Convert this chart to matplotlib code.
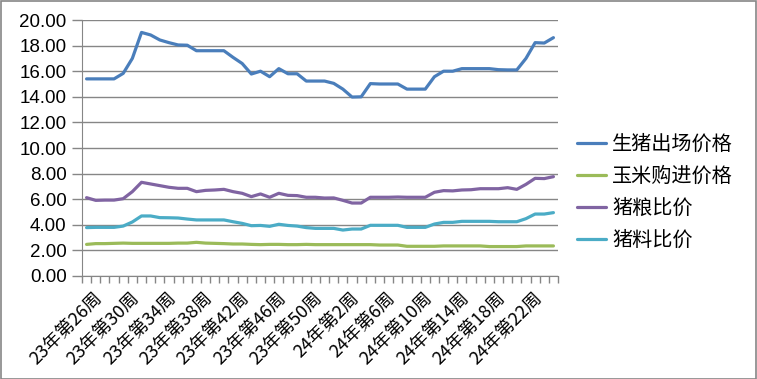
import matplotlib.pyplot as plt
import matplotlib.patches as mpatches
import matplotlib.transforms as mtransforms
import numpy as np

# categories: 2023 week 26 .. 2024 week 25
weeks = [f"23年第{w}周" for w in range(26, 53)] + [f"24年第{w}周" for w in range(1, 26)]

hog_price = [15.4, 15.4, 15.4, 15.4, 15.83, 17.0, 19.03, 18.83, 18.44, 18.23, 18.05, 18.03,
             17.6, 17.6, 17.6, 17.6, 17.08, 16.6, 15.78, 16.0, 15.57, 16.2, 15.8, 15.8,
             15.23, 15.23, 15.23, 15.05, 14.6, 13.98, 14.0, 15.03, 15.0, 15.0, 15.0, 14.6,
             14.6, 14.6, 15.57, 16.0, 16.0, 16.2, 16.2, 16.2, 16.2, 16.12, 16.1, 16.1,
             17.0, 18.23, 18.2, 18.62]
corn_price = [2.47, 2.53, 2.53, 2.55, 2.57, 2.55, 2.55, 2.55, 2.55, 2.55, 2.57, 2.57,
              2.63, 2.57, 2.55, 2.53, 2.5, 2.5, 2.47, 2.45, 2.47, 2.47, 2.45, 2.45,
              2.47, 2.45, 2.45, 2.45, 2.45, 2.45, 2.45, 2.45, 2.42, 2.42, 2.42, 2.32,
              2.32, 2.32, 2.32, 2.35, 2.35, 2.35, 2.35, 2.35, 2.3, 2.3, 2.3, 2.3,
              2.35, 2.35, 2.35, 2.35]
hog_grain = [6.12, 5.91, 5.93, 5.93, 6.04, 6.59, 7.32, 7.19, 7.06, 6.93, 6.85, 6.85,
             6.59, 6.69, 6.72, 6.77, 6.59, 6.46, 6.2, 6.41, 6.15, 6.46, 6.3, 6.28,
             6.15, 6.15, 6.09, 6.1, 5.91, 5.7, 5.7, 6.15, 6.15, 6.15, 6.17, 6.15,
             6.15, 6.15, 6.54, 6.67, 6.65, 6.72, 6.74, 6.82, 6.82, 6.82, 6.9, 6.77,
             7.16, 7.63, 7.61, 7.76]
hog_feed = [3.78, 3.8, 3.8, 3.8, 3.9, 4.22, 4.69, 4.69, 4.56, 4.55, 4.53, 4.45,
            4.38, 4.38, 4.38, 4.38, 4.24, 4.11, 3.93, 3.95, 3.88, 4.04, 3.95, 3.9,
            3.78, 3.72, 3.72, 3.72, 3.59, 3.67, 3.67, 3.96, 3.96, 3.96, 3.96, 3.8,
            3.8, 3.8, 4.06, 4.19, 4.19, 4.27, 4.27, 4.27, 4.27, 4.24, 4.24, 4.24,
            4.48, 4.84, 4.84, 4.95]

names = ["生猪出场价格", "玉米购进价格", "猪粮比价", "猪料比价"]
colors = ["#4A7EBB", "#9BBB59", "#8064A2", "#4BACC6"]
series = [hog_price, corn_price, hog_grain, hog_feed]

W, H = 757, 379
fig = plt.figure(figsize=(W / 100, H / 100), dpi=100)
fig.patches.append(mpatches.Rectangle((0.5 / W, 0.5 / H), 1 - 1.5 / W, 1 - 1.5 / H,
                                      transform=fig.transFigure, fill=False,
                                      edgecolor="#868686", linewidth=1.2))

ax = fig.add_axes([82 / W, (H - 276) / H, 476 / W, 256 / H])
x = np.arange(len(weeks))
lines = []
for vals, c, n in zip(series, colors, names):
    ln, = ax.plot(x, vals, color=c, linewidth=2.3, label=n, solid_capstyle="round")
    lines.append(ln)

ax.set_xlim(-0.5, len(weeks) - 0.5)
ax.set_ylim(0, 20)
ax.set_yticks(np.arange(0, 21, 2))
ax.set_yticklabels([f"{v:.2f}" for v in np.arange(0, 21, 2)],
                   family="Liberation Sans", fontsize=13.5)
ax.yaxis.grid(True, color="#868686", linewidth=1)
ax.set_axisbelow(True)
ax.tick_params(axis="y", length=7, width=1, color="#868686", pad=4)

# tick marks at category boundaries, labels at every 4th category
ax.set_xticks(np.arange(-0.5, len(weeks)), [""] * (len(weeks) + 1))
ax.tick_params(axis="x", which="major", length=5, width=1, color="#868686")
ax.set_xticks(x[::4], weeks[::4], minor=True)
ax.tick_params(axis="x", which="minor", length=0, pad=9)
shift = mtransforms.ScaledTranslation(7 / 100, 0, fig.dpi_scale_trans)
for lbl in ax.get_xticklabels(minor=True):
    lbl.set_rotation(45)
    lbl.set_ha("right")
    lbl.set_va("top")
    lbl.set_rotation_mode("anchor")
    lbl.set_fontsize(13)
    lbl.set_family(["Noto Sans CJK SC", "DejaVu Sans"])
    lbl.set_transform(lbl.get_transform() + shift)

for s in ["top", "right"]:
    ax.spines[s].set_visible(False)
ax.spines["left"].set_color("#868686")
ax.spines["bottom"].set_color("#868686")

fig.legend(handles=lines, loc="upper left", bbox_to_anchor=(577 / W, 1 - 134 / H),
           frameon=False, prop={"family": ["Noto Sans CJK SC", "DejaVu Sans"], "size": 14.5},
           handlelength=1.45, handletextpad=0.3, labelspacing=0.55,
           borderpad=0, borderaxespad=0)

fig.savefig("out.png", dpi=100)
